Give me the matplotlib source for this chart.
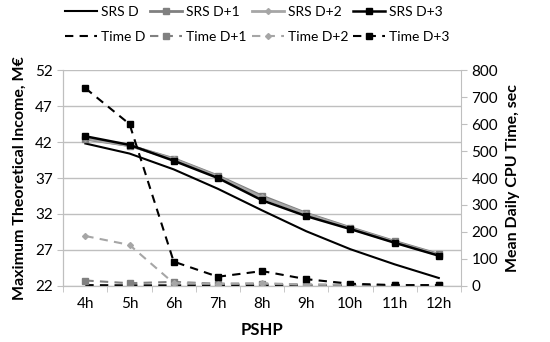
import matplotlib
matplotlib.use("Agg")
import matplotlib.pyplot as plt
from matplotlib.ticker import FixedLocator

categories = ["4h", "5h", "6h", "7h", "8h", "9h", "10h", "11h", "12h"]

srs_d  = [41.8, 40.4, 38.2, 35.5, 32.5, 29.6, 27.1, 25.0, 23.1]
srs_d1 = [42.4, 41.5, 39.7, 37.3, 34.5, 32.1, 30.1, 28.2, 26.4]
srs_d2 = [42.5, 41.5, 39.6, 37.2, 34.3, 32.0, 30.0, 28.1, 26.3]
srs_d3 = [42.8, 41.6, 39.4, 37.0, 33.9, 31.7, 29.9, 28.0, 26.2]

time_d  = [3, 2, 2, 2, 2, 2, 2, 2, 2]
time_d1 = [20, 10, 15, 8, 8, 5, 3, 2, 2]
time_d2 = [185, 152, 10, 8, 10, 5, 5, 3, 3]
time_d3 = [733, 600, 90, 34, 55, 25, 8, 3, 3]

left_ticks = [22, 27, 32, 37, 42, 47, 52]
right_ticks = [0, 100, 200, 300, 400, 500, 600, 700, 800]

plt.rcParams['font.family'] = ['Lato', 'DejaVu Sans']

fig = plt.figure(figsize=(5.5, 3.42), dpi=100)
ax = fig.add_axes([0.115, 0.164, 0.723, 0.631])
ax2 = ax.twinx()

x = list(range(len(categories)))
grid_c = "#bfbfbf"
gray1 = "#808080"
gray2 = "#a6a6a6"

h = {}
h['SRS D'], = ax.plot(x, srs_d, color="black", lw=1.5)
h['SRS D+1'], = ax.plot(x, srs_d1, color=gray1, lw=2, marker="s", ms=5)
h['SRS D+2'], = ax.plot(x, srs_d2, color=gray2, lw=2, marker="D", ms=3)
h['SRS D+3'], = ax.plot(x, srs_d3, color="black", lw=1.8, marker="s", ms=5)

h['Time D'], = ax2.plot(x, time_d, color="black", lw=1.5, ls=(0, (4, 3)))
h['Time D+1'], = ax2.plot(x, time_d1, color=gray1, lw=1.5, ls=(0, (4, 3)), marker="s", ms=5)
h['Time D+2'], = ax2.plot(x, time_d2, color=gray2, lw=1.5, ls=(0, (4, 3)), marker="D", ms=3)
h['Time D+3'], = ax2.plot(x, time_d3, color="black", lw=1.5, ls=(0, (4, 3)), marker="s", ms=5)

ax.set_xlim(-0.5, len(categories) - 0.5)
ax.set_ylim(22, 52)
ax2.set_ylim(0, 800)
ax.set_yticks(left_ticks)
ax2.set_yticks(right_ticks)
ax.set_xticks(x)
ax.set_xticklabels(categories)
ax.xaxis.set_minor_locator(FixedLocator([i - 0.5 for i in range(len(categories) + 1)]))
ax.tick_params(axis='x', which='major', length=0, labelsize=11, pad=8)
ax.tick_params(axis='x', which='minor', length=4, color=grid_c, direction='out')
ax.tick_params(axis='y', length=4, color=grid_c, labelsize=11)
ax2.tick_params(axis='y', length=4, color=grid_c, labelsize=11)

ax.yaxis.grid(True, color=grid_c, lw=1)
ax.set_axisbelow(True)
for a in (ax, ax2):
    a.spines['top'].set_visible(False)
    for s in ('left', 'right', 'bottom'):
        a.spines[s].set_color(grid_c)
ax.spines['right'].set_visible(False)

ax.set_xlabel("PSHP", fontsize=12, fontweight='bold', labelpad=8)
ax.set_ylabel("Maximum Theoretical Income, M€", fontsize=11.5, fontweight='bold', labelpad=6)
ax2.set_ylabel("Mean Daily CPU Time, sec", fontsize=11.5, fontweight='bold', labelpad=6)

order = ['SRS D', 'Time D', 'SRS D+1', 'Time D+1', 'SRS D+2', 'Time D+2', 'SRS D+3', 'Time D+3']
fig.legend([h[k] for k in order], order, ncol=4, loc='upper center',
           bbox_to_anchor=(0.468, 1.02), frameon=False, fontsize=10,
           handlelength=2.3, handletextpad=0.3, columnspacing=0.35, labelspacing=0.95)

fig.savefig("out.png", dpi=100)
